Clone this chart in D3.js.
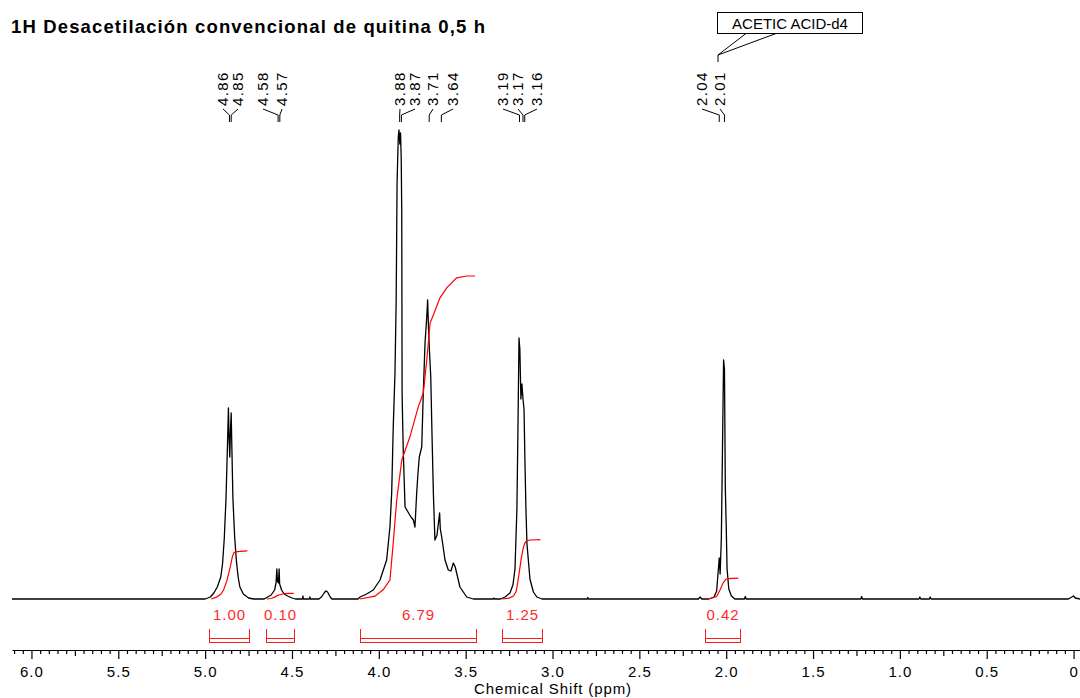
<!DOCTYPE html>
<html>
<head>
<meta charset="utf-8">
<script src="https://cdn.jsdelivr.net/npm/d3@7"></script>
<style>
body { margin: 0; background: #fff; }
svg { display: block; font-family: "Liberation Sans", Arial, sans-serif; }
</style>
</head>
<body>
<div id="chart"></div>
<script>

// spectrum, [ppm, intensity]
var anomericPeak = [[6.112,0],[5.00,0],[4.97,2],[4.95,6],[4.93,12],[4.91,22],[4.90,35],[4.89,60],[4.88,100],[4.872,150],[4.866,191],[4.862,160],[4.858,142],[4.854,170],[4.850,186],[4.846,150],[4.84,100],[4.83,62],[4.82,38],[4.81,22],[4.80,12],[4.78,5],[4.75,1],[4.72,0]];
var smallPeaks = [[4.66,0],[4.64,2],[4.62,4],[4.60,9],[4.592,16],[4.587,30],[4.584,18],[4.578,16],[4.574,30],[4.571,15],[4.56,9],[4.545,5],[4.525,3],[4.50,1],[4.48,0],
	[4.44,0],[4.437,3],[4.434,0],[4.40,0],[4.397,2],[4.394,0],
	[4.345,0],[4.33,2],[4.315,6],[4.305,8],[4.295,7],[4.28,2],[4.27,0],[4.12,0]];
var ringPeaks = [[4.108,2],[4.07,5],[4.032,9],[3.993,19],[3.955,39],[3.936,72],[3.926,106],[3.917,172],[3.907,226],[3.900,300],[3.895,416],[3.888,462],[3.884,469],[3.879,455],[3.875,466],[3.871,440],[3.868,386],[3.866,206],[3.862,170],[3.859,146],[3.849,92],[3.832,87],[3.815,82],[3.801,79],[3.792,72],[3.782,106],[3.775,125],[3.767,142],[3.753,152],[3.744,206],[3.734,256],[3.724,282],[3.719,299],[3.714,272],[3.709,250],[3.701,222],[3.694,166],[3.686,106],[3.677,59],[3.665,64],[3.650,86],[3.646,70],[3.638,62],[3.619,39],[3.600,29],[3.585,28],[3.571,36],[3.560,32],[3.552,26],[3.533,12],[3.494,2],[3.456,0],[3.34,0],[3.337,1],[3.334,0]];
var aminePeak = [[3.30,0],[3.273,2],[3.245,6],[3.228,14],[3.216,30],[3.205,90],[3.199,170],[3.193,261],[3.188,250],[3.182,200],[3.176,215],[3.170,200],[3.164,190],[3.159,140],[3.153,90],[3.147,55],[3.130,20],[3.110,7],[3.090,2],[3.06,0],[2.80,0],[2.797,1.5],[2.794,0]];
var acetylPeak = [[2.16,0],[2.15,2],[2.14,0],[2.10,0],[2.07,2],[2.055,8],[2.045,30],[2.040,41],[2.035,25],[2.028,60],[2.020,170],[2.015,239],[2.010,230],[2.005,110],[2.000,74],[1.995,30],[1.985,10],[1.97,3],[1.95,0],
	[1.895,0],[1.89,2.5],[1.885,0],[1.225,0],[1.22,2.5],[1.215,0],[0.89,0],[0.885,2],[0.88,0],[0.83,0],[0.826,2],[0.82,0],[0.03,0],[0.01,2],[0.0,3],[-0.01,1],[-0.037,0]];

// integral curves, [ppm, cumulative integral]
var integral1 = [[4.965,0],[4.935,0.04],[4.91,0.1],[4.894,0.19],[4.875,0.38],[4.855,0.68],[4.845,0.86],[4.836,0.97],[4.825,0.99],[4.80,1.0],[4.757,1.01]];
var integral2 = [[4.645,0],[4.62,0.01],[4.60,0.04],[4.585,0.07],[4.57,0.09],[4.55,0.11],[4.52,0.12],[4.49,0.12]];
var integral3 = [[4.108,0],[4.022,0.06],[3.974,0.2],[3.936,0.40],[3.917,1.18],[3.897,2.08],[3.868,2.92],[3.821,3.41],[3.773,4.04],[3.744,4.33],[3.724,5.02],[3.705,5.80],[3.686,5.97],[3.648,6.33],[3.609,6.54],[3.552,6.75],[3.494,6.79],[3.446,6.79]];
var integral4 = [[3.29,0],[3.25,0.02],[3.225,0.06],[3.21,0.15],[3.20,0.35],[3.19,0.6],[3.18,0.85],[3.17,1.05],[3.16,1.17],[3.15,1.22],[3.13,1.24],[3.07,1.25]];
var integral5 = [[2.12,0],[2.09,0.01],[2.055,0.05],[2.036,0.19],[2.017,0.34],[2.003,0.41],[1.988,0.43],[1.93,0.44]];

var integralValues = ["1.00", "0.10", "6.79", "1.25", "0.42"];
var integralFrom = [4.98, 4.65, 4.11, 3.29, 2.12];
var integralTo = [4.75, 4.49, 3.44, 3.06, 1.92];

var peakLabels = ["4.86","4.85","4.58","4.57","3.88","3.87","3.71","3.64","3.19","3.17","3.16","2.04","2.01"];
var peakPpm = [4.86,4.85,4.58,4.57,3.88,3.87,3.71,3.64,3.19,3.17,3.16,2.04,2.01];

var majorTicks = d3.range(13).map(i => i * 0.5);
var midTicks = d3.range(12).map(i => i * 0.5 + 0.25);
var minorTicks = d3.range(123).filter(i => i % 5 != 0).map(i => i * 0.05);

// layout
var width = 1080, height = 698;
var labelX = [223, 238, 263, 282, 400, 415, 433, 453, 503, 518, 537, 702, 720];

var svg = d3.select("#chart").append("svg")
	.attr("width", width)
	.attr("height", height);

var x = d3.scaleLinear().domain([6.112, -0.037]).range([12, 1080]);
var y = d3.scaleLinear().domain([0, 470]).range([599, 129]);
var yInt = d3.scaleLinear().domain([0, 6.79]).range([599, 276]);

svg.append("text")
	.attr("x", 11)
	.attr("y", 33)
	.attr("font-size", 18.5)
	.attr("font-weight", "bold")
	.attr("textLength", 474)
	.attr("lengthAdjust", "spacing")
	.text("1H Desacetilación convencional de quitina 0,5 h");

// spectrum
var spectrum = [].concat(anomericPeak, smallPeaks, ringPeaks, aminePeak, acetylPeak);
var line = d3.line().x(d => x(d[0])).y(d => y(d[1]));

svg.append("path")
	.datum(spectrum)
	.attr("fill", "none")
	.attr("stroke", "#000")
	.attr("stroke-width", 1.3)
	.attr("stroke-linejoin", "round")
	.attr("d", line);

// integrals
var intLine = d3.line().x(d => x(d[0])).y(d => yInt(d[1]));
svg.append("g").selectAll("path")
	.data([integral1, integral2, integral3, integral4, integral5])
	.enter().append("path")
	.attr("fill", "none")
	.attr("stroke", "#ff0000")
	.attr("stroke-width", 1.2)
	.attr("d", intLine);

var brackets = svg.append("g").attr("stroke", "#ff1a1a").attr("fill", "none").attr("stroke-width", 1);
integralValues.forEach(function(v, i) {
	var x0 = Math.round(x(integralFrom[i])) + 0.5;
	var x1 = Math.round(x(integralTo[i])) + 0.5;
	brackets.append("path").attr("d", `M${x0},629V643M${x1},629V643M${x0},638.5H${x1}M${x0},642.5H${x1}`);
	svg.append("text")
		.attr("x", (x0 + x1) / 2)
		.attr("y", 620)
		.attr("text-anchor", "middle")
		.attr("font-size", 15)
		.attr("letter-spacing", 1)
		.attr("fill", "#ff2a2a")
		.text(v);
});

// peak labels
var labels = svg.append("g");
peakLabels.forEach(function(t, i) {
	var px = x(peakPpm[i]);
	labels.append("path")
		.attr("d", `M${labelX[i]},109L${px},115L${px},122`)
		.attr("fill", "none")
		.attr("stroke", "#000")
		.attr("stroke-width", 1);
	labels.append("text")
		.attr("transform", `translate(${labelX[i] + 5},106) rotate(-90)`)
		.attr("font-size", 15)
		.attr("letter-spacing", 1.4)
		.text(t);
});

// solvent callout
var callout = svg.append("g");
callout.append("rect")
	.attr("x", 717.5).attr("y", 12.5)
	.attr("width", 145).attr("height", 21)
	.attr("fill", "#fff").attr("stroke", "#000");
callout.append("path")
	.attr("d", "M746,33.5L718,55L776,33.5M718,55V62")
	.attr("fill", "none")
	.attr("stroke", "#000");
callout.append("text")
	.attr("x", 790)
	.attr("y", 28.5)
	.attr("text-anchor", "middle")
	.attr("font-size", 15)
	.text("ACETIC ACID-d4");

// axis
var axisY = 650;
svg.append("g")
	.attr("transform", `translate(0,${axisY})`)
	.call(d3.axisBottom(x).tickValues(minorTicks).tickSize(4).tickFormat(""))
	.call(g => g.select(".domain").remove());
svg.append("g")
	.attr("transform", `translate(0,${axisY})`)
	.call(d3.axisBottom(x).tickValues(midTicks).tickSize(6).tickFormat(""))
	.call(g => g.select(".domain").remove());
var axis = svg.append("g")
	.attr("transform", `translate(0,${axisY})`)
	.call(d3.axisBottom(x).tickValues(majorTicks).tickSize(9).tickSizeOuter(0).tickPadding(7)
		.tickFormat(d => d === 0 ? "0" : d.toFixed(1)));
axis.attr("font-family", null).attr("font-size", 15);
axis.selectAll("text").attr("fill", "#000").attr("letter-spacing", 1);
svg.selectAll(".tick line").attr("stroke", "#000").attr("stroke-width", 1.2);
axis.select(".domain").attr("stroke", "#000").attr("stroke-width", 1.2);

svg.append("text")
	.attr("x", 553)
	.attr("y", 694)
	.attr("text-anchor", "middle")
	.attr("font-size", 15)
	.attr("letter-spacing", 0.9)
	.text("Chemical Shift (ppm)");

</script>
</body>
</html>
